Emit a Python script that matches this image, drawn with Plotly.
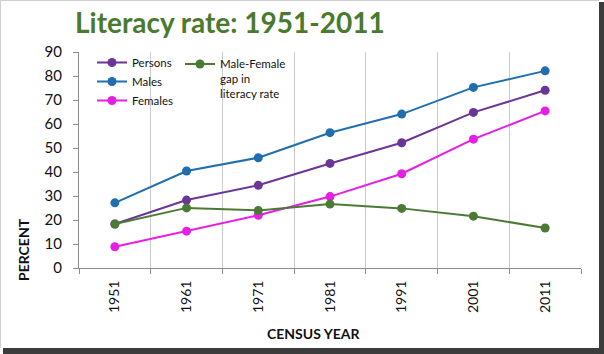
import plotly.graph_objects as go

years = ["1951", "1961", "1971", "1981", "1991", "2001", "2011"]
persons = [18.33, 28.30, 34.45, 43.57, 52.21, 64.83, 74.04]
males = [27.16, 40.40, 45.96, 56.38, 64.13, 75.26, 82.14]
females = [8.86, 15.35, 21.97, 29.76, 39.29, 53.67, 65.46]
gap = [18.30, 25.05, 23.98, 26.62, 24.84, 21.59, 16.68]

W, H = 604, 354
L, R, T, B = 79, 581, 52, 268

def px(x):
    return (x - L) / (R - L)

def py(y):
    return (B - y) / (B - T)

FONT = "Lato"

fig = go.Figure()

def add(name, vals, color, legend):
    fig.add_trace(go.Scatter(
        x=years, y=vals, name=name, mode="lines+markers",
        line=dict(color=color, width=2),
        marker=dict(color=color, size=9),
        legend=legend,
    ))

add("Persons", persons, "#6b3596", "legend")
add("Males", males, "#1f6eb0", "legend")
add("Females", females, "#e61ee6", "legend")
add("Male-Female<br>gap in<br>literacy rate", gap, "#4a7a34", "legend2")

shapes = [
    dict(type="line", xref="paper", yref="paper", x0=px(0.5), x1=px(599), y0=py(0.5), y1=py(0.5),
         line=dict(color="#cfcfcf", width=1)),
    dict(type="line", xref="paper", yref="paper", x0=px(0.5), x1=px(0.5), y0=py(0.5), y1=py(348),
         line=dict(color="#cfcfcf", width=1)),
    dict(type="rect", xref="paper", yref="paper", x0=px(599), x1=px(604), y0=py(2), y1=py(354),
         line=dict(width=0), fillcolor="#3c3c3c"),
    dict(type="rect", xref="paper", yref="paper", x0=px(3), x1=px(604), y0=py(348), y1=py(354),
         line=dict(width=0), fillcolor="#3c3c3c"),
]

annotations = [
    dict(text="<b>PERCENT</b>", xref="paper", yref="paper", x=px(23), y=py(250),
         showarrow=False, textangle=-90, font=dict(family=FONT, size=14, color="#111"),
         xanchor="center", yanchor="middle"),
    dict(text="<b>CENSUS YEAR</b>", xref="paper", yref="paper", x=px(314), y=py(333),
         showarrow=False, font=dict(family=FONT, size=14, color="#111"),
         xanchor="center", yanchor="middle"),
]

fig.update_layout(
    width=W, height=H,
    margin=dict(l=L, r=W - R, t=T, b=H - B),
    paper_bgcolor="white", plot_bgcolor="white",
    font=dict(family=FONT, color="#111"),
    title=dict(text="<b>Literacy rate: 1951-2011</b>", xref="container", yref="container",
               x=75 / W, xanchor="left", y=1 - 23 / H, yanchor="middle",
               font=dict(family=FONT, size=28, color="#4a7a2e")),
    showlegend=True,
    legend=dict(x=px(92), y=py(48), xanchor="left", yanchor="top",
                bgcolor="rgba(0,0,0,0)", font=dict(family=FONT, size=11.5, color="#111"),
                tracegroupgap=0, itemwidth=30),
    legend2=dict(x=px(180), y=py(50), xanchor="left", yanchor="top", valign="top",
                 bgcolor="rgba(0,0,0,0)", font=dict(family=FONT, size=11.5, color="#111"),
                 itemwidth=30),
    xaxis=dict(type="category", range=[-0.5, 6.5], tickson="boundaries",
               showgrid=True, gridcolor="#cccccc", gridwidth=1,
               showline=True, linecolor="#8c8c8c", linewidth=1,
               ticks="outside", ticklen=5, tickcolor="#8c8c8c",
               ticklabelstandoff=6,
               tickangle=-90, tickfont=dict(family=FONT, size=14, color="#111"),
               zeroline=False, fixedrange=True),
    yaxis=dict(range=[0, 90], dtick=10, tick0=0, showgrid=False,
               showline=True, linecolor="#8c8c8c", linewidth=1,
               ticks="outside", ticklen=5, tickcolor="#8c8c8c",
               ticklabelstandoff=8,
               tickfont=dict(family=FONT, size=15, color="#111"),
               zeroline=False, fixedrange=True),
    shapes=shapes,
    annotations=annotations,
)

fig.write_html("out.html")
